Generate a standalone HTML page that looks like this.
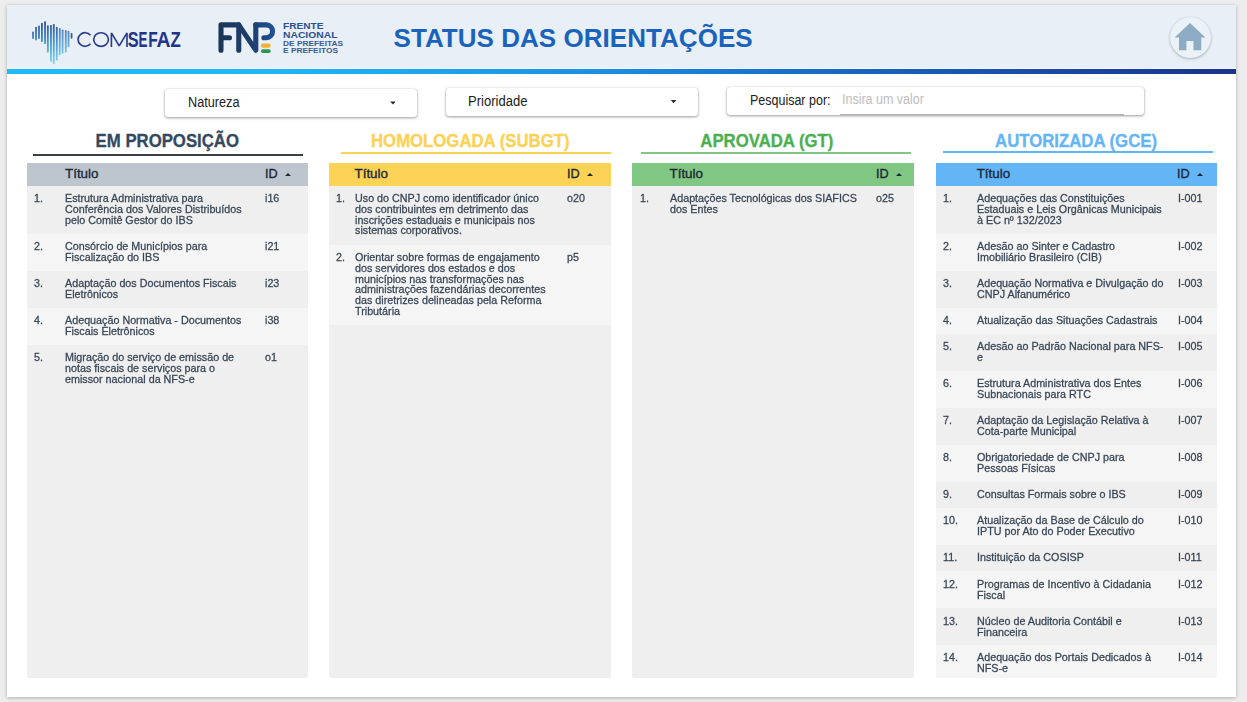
<!DOCTYPE html>
<html lang="pt-BR">
<head>
<meta charset="utf-8">
<title>Status das Orientações</title>
<style>
html,body{margin:0;padding:0;}
body{width:1247px;height:702px;overflow:hidden;background:#ededed;font-family:"Liberation Sans",sans-serif;position:relative;}
.abs{position:absolute;}
#card{left:7px;top:5px;width:1229px;height:692px;background:#fff;box-shadow:0 1px 4px rgba(0,0,0,.24),0 0 2px rgba(0,0,0,.06);}
#hdr{left:7px;top:5px;width:1229px;height:63px;background:#e8eff6;border-bottom:1px solid #f3f7fb;}
#bar{left:7px;top:69px;width:1229px;height:5px;background:linear-gradient(90deg,#1ebbfb 0%,#1eb6f6 22%,#1c8fe0 48%,#1872ca 62%,#1852aa 80%,#18338c 100%);}
#title{left:393.6px;top:23px;font-weight:bold;font-size:26px;letter-spacing:0.04px;line-height:30px;color:#1a63bd;white-space:nowrap;}
.dd{height:28px;background:#fff;border-radius:3px;box-shadow:0 1px 3px rgba(0,0,0,.38),0 0 1px rgba(0,0,0,.25);}
.ddt{font-size:13.8px;line-height:28px;color:#212121;white-space:nowrap;transform:scaleX(0.92);transform-origin:0 50%;}
.arr{width:0;height:0;border-left:2.7px solid transparent;border-right:2.7px solid transparent;border-top:3px solid #2b2b2b;}
.ctitle{font-weight:bold;font-size:17.6px;line-height:22px;text-align:center;white-space:nowrap;-webkit-text-stroke:0.3px;}
.uline{height:2px;}
.panel{top:163px;height:515px;background:#efefef;border-radius:0 0 2px 2px;overflow:hidden;}
.th{height:23px;position:relative;}
.th span{position:absolute;top:0;line-height:22px;font-size:13.4px;font-weight:normal;-webkit-text-stroke:0.36px #1c2836;color:#1c2836;white-space:nowrap;transform:scaleX(1);transform-origin:0 50%;}
.th span.id{transform:scaleX(0.945);}
.th i{position:absolute;top:10px;width:0;height:0;border-left:3px solid transparent;border-right:3px solid transparent;border-bottom:3px solid #1f2933;}
.r{position:relative;font-size:10.75px;line-height:10.83px;color:#384656;}
.r.a{background:transparent;}
.r.b{background:#f5f5f5;}
.r span{will-change:transform;-webkit-text-stroke:0.26px #384656;}
.r .n{position:absolute;top:7px;}
.r .t{position:absolute;top:7px;white-space:nowrap;}
.r .d{position:absolute;top:7px;}
.r.s1 span{top:8px;}
.h1{height:26px;}.h2{height:37px;}.h3{height:48px;}.h4{height:59px;}.h6{height:80px;}
</style>
</head>
<body>
<div id="card" class="abs"></div>
<div id="hdr" class="abs"></div>
<div id="bar" class="abs"></div>
<div id="title" class="abs">STATUS DAS ORIENTAÇÕES</div>

<svg class="abs" style="left:0;top:0;" width="380" height="70" viewBox="0 0 380 70">
<defs><linearGradient id="g1" gradientUnits="userSpaceOnUse" x1="0" y1="21" x2="0" y2="65"><stop offset="0" stop-color="#2d4f98"/><stop offset="0.4" stop-color="#3f86c4"/><stop offset="0.75" stop-color="#63bfe0"/><stop offset="1" stop-color="#86d8ee"/></linearGradient>
<linearGradient id="g2" gradientUnits="userSpaceOnUse" x1="218" y1="0" x2="276" y2="0"><stop offset="0" stop-color="#1b3757"/><stop offset="0.55" stop-color="#1d3e6c"/><stop offset="1" stop-color="#21509b"/></linearGradient></defs>
<g fill="url(#g1)"><rect x="32.14" y="31.56" width="1.8" height="7.40" rx="0.8"/><rect x="35.10" y="26.74" width="1.8" height="13.70" rx="0.8"/><rect x="38.06" y="25.50" width="1.8" height="13.46" rx="0.8"/><rect x="41.03" y="22.80" width="1.8" height="19.27" rx="0.8"/><rect x="44.14" y="21.20" width="1.8" height="22.95" rx="0.8"/><rect x="46.95" y="25.26" width="1.8" height="27.41" rx="0.8"/><rect x="50.06" y="24.90" width="1.8" height="36.88" rx="0.8"/><rect x="52.88" y="24.00" width="1.8" height="40.30" rx="0.8"/><rect x="55.90" y="26.74" width="1.8" height="33.70" rx="0.8"/><rect x="58.88" y="28.07" width="1.8" height="27.19" rx="0.8" opacity="0.82"/><rect x="61.70" y="29.50" width="1.8" height="24.28" rx="0.8" opacity="0.82"/><rect x="64.88" y="30.07" width="1.8" height="22.60" rx="0.8" opacity="0.82"/><rect x="67.62" y="30.80" width="1.8" height="16.46" rx="0.8" opacity="0.82"/><rect x="70.66" y="33.04" width="1.8" height="5.76" rx="0.8" fill="#2f6483"/></g>
<g fill="none" stroke="#2a3d8c" stroke-width="1.65">
<path d="M90.5 35.2 A7.0 6.8 0 1 0 90.5 43.8"/>
<ellipse cx="101.05" cy="39.5" rx="7.35" ry="6.8"/>
<path d="M111.4 47.1 V32.9 L119.2 45.9 L127.0 32.9 V47.1" stroke-linejoin="bevel"/>
</g>
<g font-family="Liberation Sans, sans-serif" font-size="21.8" font-weight="bold" fill="#21348a"><text transform="translate(127.83,47.0) scale(0.747,1)">S</text><text transform="translate(138.51,47.0) scale(0.613,1)">E</text><text transform="translate(148.16,47.0) scale(0.714,1)">F</text><text transform="translate(156.62,47.0) scale(0.889,1)">A</text><text transform="translate(170.60,47.0) scale(0.772,1)">Z</text></g>
<g fill="none" stroke="url(#g2)" stroke-width="5.1" stroke-linecap="round" stroke-linejoin="round">
<path d="M221 50.2 V24.85 H238.75 L255.8 50.2 V24.85"/>
<path d="M238.75 24.85 V50.2"/>
<path d="M222.5 37.7 H229.5"/>
<path d="M255.8 24.85 H266.4 A6.43 6.43 0 0 1 266.4 37.7 H263.9"/>
</g>
<rect x="261.0" y="43.5" width="9.7" height="4.2" rx="1.9" fill="#f3b132"/>
<rect x="261.0" y="49.2" width="9.7" height="3.9" rx="1.8" fill="#2f964c"/>
<g font-family="Liberation Sans, sans-serif" fill="#2c4f8f">
<text x="283" y="28.9" font-size="9.3" font-weight="bold" textLength="40.5" lengthAdjust="spacingAndGlyphs">FRENTE</text>
<text x="283" y="37.5" font-size="9.1" font-weight="bold" textLength="54.5" lengthAdjust="spacingAndGlyphs">NACIONAL</text>
<text x="283" y="45.6" font-size="8" font-weight="bold" fill="#3d5c92" textLength="60" lengthAdjust="spacingAndGlyphs">DE PREFEITAS</text>
<text x="283" y="52.9" font-size="7.6" font-weight="bold" fill="#3d5c92" textLength="55" lengthAdjust="spacingAndGlyphs">E PREFEITOS</text>
</g>
</svg>
<div class="abs" style="left:1169.5px;top:16.8px;width:41px;height:41px;border-radius:50%;background:#eaf1f7;box-shadow:0 1px 3px rgba(0,0,0,.26),0 0 1px rgba(0,0,0,.10);"></div>
<svg class="abs" style="left:1160px;top:10px;" width="60" height="55" viewBox="1160 10 60 55"><path fill="#8eabc4" d="M1190 23.1 L1205.4 37.4 H1201.2 V50.3 H1193.5 V41 H1186.4 V50.3 H1179 V37.4 H1174.6 Z"/></svg>

<!-- filters -->
<div class="abs dd" style="left:165px;top:89px;width:252px;"></div>
<div class="abs ddt" style="left:188px;top:89px;">Natureza</div>
<svg class="abs" style="left:385px;top:98px;" width="16" height="10" viewBox="385 98 16 10"><path fill="#2b2b2b" d="M390.1 101.4 H395.7 L392.9 104.4 Z"/></svg>
<div class="abs dd" style="left:446px;top:88px;width:252px;"></div>
<div class="abs ddt" style="left:468.3px;top:88px;transform:scaleX(0.945);">Prioridade</div>
<svg class="abs" style="left:665px;top:97px;" width="16" height="10" viewBox="665 97 16 10"><path fill="#2b2b2b" d="M670.8 100.1 H676.4 L673.6 103.2 Z"/></svg>
<div class="abs dd" style="left:727px;top:87px;width:417px;"></div>
<div class="abs ddt" style="left:750px;top:87px;transform:scaleX(0.905);">Pesquisar por:</div>
<div class="abs ddt" style="left:842px;top:86px;color:#bdbdbd;transform:scaleX(0.905);">Insira um valor</div>
<div class="abs" style="left:840px;top:114px;width:284px;height:1px;background:#b2b2b2;"></div>

<!-- columns -->
<div class="abs ctitle" id="ct0" style="left:167.1px;top:130px;width:300px;margin-left:-150px;color:#34495e;"><span style="display:inline-block;transform:scaleX(0.952);">EM PROPOSIÇÃO</span></div>
<div class="abs uline" style="left:33px;top:154px;width:270px;background:#3c4043;"></div>
<div class="abs panel" style="left:27px;width:281px;">
<div class="th" style="background:#bdc6cf;"><span style="left:38.0px;">Título</span><span class="id" style="left:237.7px;">ID</span><i style="left:258.3px;"></i></div>
<div class="r a h3"><span class="n" style="left:7.0px;">1.</span><span class="t" style="left:38.0px;">Estrutura Administrativa para<br>Conferência dos Valores Distribuídos<br>pelo Comitê Gestor do IBS</span><span class="d" style="left:238.0px;">i16</span></div>
<div class="r b h2"><span class="n" style="left:7.0px;">2.</span><span class="t" style="left:38.0px;">Consórcio de Municípios para<br>Fiscalização do IBS</span><span class="d" style="left:238.0px;">i21</span></div>
<div class="r a h2"><span class="n" style="left:7.0px;">3.</span><span class="t" style="left:38.0px;">Adaptação dos Documentos Fiscais<br>Eletrônicos</span><span class="d" style="left:238.0px;">i23</span></div>
<div class="r b h2"><span class="n" style="left:7.0px;">4.</span><span class="t" style="left:38.0px;">Adequação Normativa - Documentos<br>Fiscais Eletrônicos</span><span class="d" style="left:238.0px;">i38</span></div>
<div class="r a h3"><span class="n" style="left:7.0px;">5.</span><span class="t" style="left:38.0px;">Migração do serviço de emissão de<br>notas fiscais de serviços para o<br>emissor nacional da NFS-e</span><span class="d" style="left:238.0px;">o1</span></div>
</div>
<div class="abs ctitle" id="ct1" style="left:470.1px;top:130px;width:300px;margin-left:-150px;color:#fdd154;"><span style="display:inline-block;transform:scaleX(0.952);">HOMOLOGADA (SUBGT)</span></div>
<div class="abs uline" style="left:341px;top:152px;width:270px;background:#fdd154;"></div>
<div class="abs panel" style="left:329px;width:282px;">
<div class="th" style="background:#fdd357;"><span style="left:25.5px;">Título</span><span class="id" style="left:238.0px;">ID</span><i style="left:257.6px;"></i></div>
<div class="r a h4"><span class="n" style="left:7.3px;">1.</span><span class="t" style="left:25.5px;">Uso do CNPJ como identificador único<br>dos contribuintes em detrimento das<br>inscrições estaduais e municipais nos<br>sistemas corporativos.</span><span class="d" style="left:238.3px;">o20</span></div>
<div class="r b h6"><span class="n" style="left:7.3px;">2.</span><span class="t" style="left:25.5px;">Orientar sobre formas de engajamento<br>dos servidores dos estados e dos<br>municípios nas transformações nas<br>administrações fazendárias decorrentes<br>das diretrizes delineadas pela Reforma<br>Tributária</span><span class="d" style="left:238.3px;">p5</span></div>
</div>
<div class="abs ctitle" id="ct2" style="left:767.0px;top:130px;width:300px;margin-left:-150px;color:#4caf50;"><span style="display:inline-block;transform:scaleX(0.952);">APROVADA (GT)</span></div>
<div class="abs uline" style="left:641px;top:152px;width:270px;background:#81c784;"></div>
<div class="abs panel" style="left:632px;width:282px;">
<div class="th" style="background:#81c784;"><span style="left:37.5px;">Título</span><span class="id" style="left:244.1px;">ID</span><i style="left:263.7px;"></i></div>
<div class="r a h2"><span class="n" style="left:8.4px;">1.</span><span class="t" style="left:37.5px;">Adaptações Tecnológicas dos SIAFICS<br>dos Entes</span><span class="d" style="left:244.4px;">o25</span></div>
</div>
<div class="abs ctitle" id="ct3" style="left:1075.7px;top:130px;width:300px;margin-left:-150px;color:#64b5f6;"><span style="display:inline-block;transform:scaleX(0.952);">AUTORIZADA (GCE)</span></div>
<div class="abs uline" style="left:943px;top:151px;width:270px;background:#64b5f6;"></div>
<div class="abs panel" style="left:936px;width:281px;">
<div class="th" style="background:#64b5f6;"><span style="left:40.7px;">Título</span><span class="id" style="left:241.4px;">ID</span><i style="left:261.0px;"></i></div>
<div class="r a h3"><span class="n" style="left:7.2px;">1.</span><span class="t" style="left:40.7px;">Adequações das Constituições<br>Estaduais e Leis Orgânicas Municipais<br>à EC nº 132/2023</span><span class="d" style="left:241.7px;">I-001</span></div>
<div class="r b h2"><span class="n" style="left:7.2px;">2.</span><span class="t" style="left:40.7px;">Adesão ao Sinter e Cadastro<br>Imobiliário Brasileiro (CIB)</span><span class="d" style="left:241.7px;">I-002</span></div>
<div class="r a h2"><span class="n" style="left:7.2px;">3.</span><span class="t" style="left:40.7px;">Adequação Normativa e Divulgação do<br>CNPJ Alfanumérico</span><span class="d" style="left:241.7px;">I-003</span></div>
<div class="r b h1"><span class="n" style="left:7.2px;">4.</span><span class="t" style="left:40.7px;">Atualização das Situações Cadastrais</span><span class="d" style="left:241.7px;">I-004</span></div>
<div class="r a h2"><span class="n" style="left:7.2px;">5.</span><span class="t" style="left:40.7px;">Adesão ao Padrão Nacional para NFS-<br>e</span><span class="d" style="left:241.7px;">I-005</span></div>
<div class="r b h2"><span class="n" style="left:7.2px;">6.</span><span class="t" style="left:40.7px;">Estrutura Administrativa dos Entes<br>Subnacionais para RTC</span><span class="d" style="left:241.7px;">I-006</span></div>
<div class="r a h2"><span class="n" style="left:7.2px;">7.</span><span class="t" style="left:40.7px;">Adaptação da Legislação Relativa à<br>Cota-parte Municipal</span><span class="d" style="left:241.7px;">I-007</span></div>
<div class="r b h2"><span class="n" style="left:7.2px;">8.</span><span class="t" style="left:40.7px;">Obrigatoriedade de CNPJ para<br>Pessoas Físicas</span><span class="d" style="left:241.7px;">I-008</span></div>
<div class="r a h1"><span class="n" style="left:7.2px;">9.</span><span class="t" style="left:40.7px;">Consultas Formais sobre o IBS</span><span class="d" style="left:241.7px;">I-009</span></div>
<div class="r b h2"><span class="n" style="left:7.2px;">10.</span><span class="t" style="left:40.7px;">Atualização da Base de Cálculo do<br>IPTU por Ato do Poder Executivo</span><span class="d" style="left:241.7px;">I-010</span></div>
<div class="r a h1"><span class="n" style="left:7.2px;">11.</span><span class="t" style="left:40.7px;">Instituição da COSISP</span><span class="d" style="left:241.7px;">I-011</span></div>
<div class="r b h2 s1"><span class="n" style="left:7.2px;">12.</span><span class="t" style="left:40.7px;">Programas de Incentivo à Cidadania<br>Fiscal</span><span class="d" style="left:241.7px;">I-012</span></div>
<div class="r a h2 s1"><span class="n" style="left:7.2px;">13.</span><span class="t" style="left:40.7px;">Núcleo de Auditoria Contábil e<br>Financeira</span><span class="d" style="left:241.7px;">I-013</span></div>
<div class="r b h2"><span class="n" style="left:7.2px;">14.</span><span class="t" style="left:40.7px;">Adequação dos Portais Dedicados à<br>NFS-e</span><span class="d" style="left:241.7px;">I-014</span></div>
</div>
</body>
</html>
